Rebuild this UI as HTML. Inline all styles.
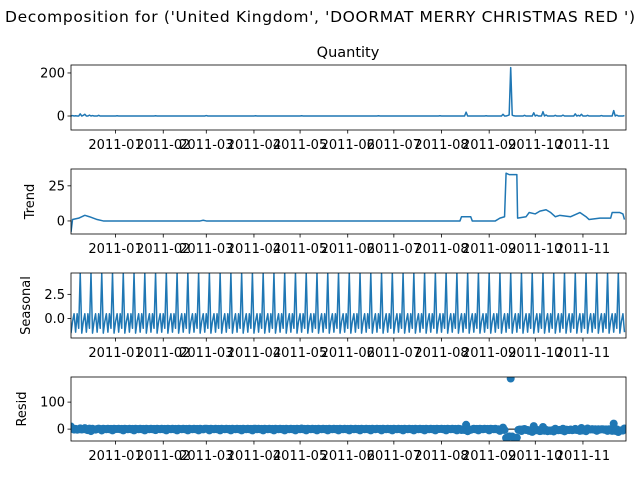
<!DOCTYPE html>
<html><head><meta charset="utf-8"><style>
html,body{margin:0;padding:0;background:#fff}
svg{display:block;font-family:"DejaVu Sans","Liberation Sans",sans-serif}
</style></head><body>
<svg id="chart" width="640" height="480" viewBox="0 0 640 480">
<rect width="640" height="480" fill="#fff"/>
<text x="320" y="22" font-size="15.5" text-anchor="middle" textLength="630">Decomposition for ('United Kingdom', 'DOORMAT MERRY CHRISTMAS RED ')</text>
<text x="348" y="57" font-size="14.5" text-anchor="middle">Quantity</text>
</svg>
<script>
// x ticks
const xTickLabels = ["2011-01","2011-02","2011-03","2011-04","2011-05","2011-06","2011-07","2011-08","2011-09","2011-10","2011-11"];
const xTickDays = [29,60,88,119,149,180,210,241,272,302,333];
const nDays = 361;
// observed: sparse non-zero days (others 0)
const obsDays = [1,3,6,8,9,12,14,18,30,55,88,120,150,200,240,257,270,281,284,285,286,287,288,295,301,303,307,309,315,320,328,330,332,336,345,353,355,360];
const obsVals = [2,1,10,3,8,4,2,3,1,1,2,1,1,1,1,18,1,8,2,5,225,4,1,3,15,4,20,5,3,4,10,3,8,3,2,25,4,2];
// trend keypoints
const trendDays = [0,1,5,9,12,17,21,84,86,88,253,254,260,261,276,279,282,283,285,290,290.5,296,298,302,305,309,312,315,318,325,329,331,335,337,344,351,352,357,359,360];
const trendVals = [-8,1,2,4,3,1,0,0,0.5,0,0,3,3,0,0,2,3,34,33,33,2,3,6,5,7,8,6,3,4,3,5,6,3,1,2,2,6,6,5,1];
// seasonal weekly pattern
const seasonalPattern = [-1.5,-0.3,0.5,-1.4,0.5,-1.0,4.7];
const obsTicks = [0,200], trendTicks = [0,25], seasTicks = [0.0,2.5], residTicks = [0,100];

const X0=71, X1=626;
const xs = d => X0 + d*(X1-X0)/nDays;
const panels = [
 {name:'observed', top:65, bot:130, min:-65, max:237, ticks:obsTicks, fmt:v=>String(v), label:null},
 {name:'trend', top:169, bot:234, min:-9.3, max:37, ticks:trendTicks, fmt:v=>String(v), label:'Trend'},
 {name:'seasonal', top:273, bot:338, min:-2.0, max:4.7, ticks:seasTicks, fmt:v=>v.toFixed(1), label:'Seasonal'},
 {name:'resid', top:377, bot:441, min:-44, max:193, ticks:residTicks, fmt:v=>String(v), label:'Resid'}
];
panels.forEach(p=>{p.y=v=>p.bot-(v-p.min)*(p.bot-p.top)/(p.max-p.min);});
const svg=document.getElementById('chart');
const NS='http://www.w3.org/2000/svg';
function mk(tag,attrs,parent){const e=document.createElementNS(NS,tag);for(const k in attrs)e.setAttribute(k,attrs[k]);(parent||svg).appendChild(e);return e;}

// data series
const observed=[];for(let d=0;d<nDays;d++)observed.push(0);
obsDays.forEach((d,i)=>{observed[d]=obsVals[i];});
function trendAt(d){for(let i=0;i<trendDays.length-1;i++){if(d>=trendDays[i]&&d<=trendDays[i+1]){const t=(d-trendDays[i])/(trendDays[i+1]-trendDays[i]);return trendVals[i]+t*(trendVals[i+1]-trendVals[i]);}}return trendVals[trendVals.length-1];}
const seasonal=[],resid=[];
for(let d=0;d<nDays;d++){seasonal.push(seasonalPattern[d%7]);resid.push(observed[d]-trendAt(d)-seasonalPattern[d%7]);}

panels.forEach((p,pi)=>{
  const g=mk('g',{});
  
  
  const cid='clip'+pi;
  const cp=mk('clipPath',{id:cid},g);mk('rect',{x:X0,y:p.top,width:X1-X0,height:p.bot-p.top},cp);
  const plot=mk('g',{'clip-path':'url(#'+cid+')'},g);
  if(p.name==='observed'){
    const pl=mk('polyline',{points:observed.map((v,d)=>xs(d).toFixed(2)+','+p.y(v).toFixed(2)).join(' '),fill:'none',stroke:'#1f77b4','stroke-width':1.5,'stroke-linejoin':'round'},plot);
    
    
  } else if(p.name==='trend'){
    const pl=mk('polyline',{points:trendDays.map((d,i)=>xs(d).toFixed(2)+','+p.y(trendVals[i]).toFixed(2)).join(' '),fill:'none',stroke:'#1f77b4','stroke-width':1.5,'stroke-linejoin':'round'},plot);
    
    
  } else if(p.name==='seasonal'){
    const pl=mk('polyline',{points:seasonal.map((v,d)=>xs(d).toFixed(2)+','+p.y(v).toFixed(2)).join(' '),fill:'none',stroke:'#1f77b4','stroke-width':1.5,'stroke-linejoin':'round'},plot);
    
    
  } else {
    const zl=mk('line',{x1:X0,x2:X1,y1:p.y(0),y2:p.y(0),stroke:'#000','stroke-width':1},plot);
    
    
    resid.forEach((v,d)=>{
      const c=mk('circle',{cx:xs(d).toFixed(2),cy:p.y(v).toFixed(2),r:4,fill:'#1f77b4'},plot);
      
      
    });
  }
  const fr=mk('rect',{x:X0,y:p.top,width:X1-X0,height:p.bot-p.top,fill:'none',stroke:'#000','stroke-width':0.8},g);
  
  
  p.ticks.forEach(v=>{
    const y=p.y(v);
    mk('line',{x1:X0-3.5,x2:X0,y1:y,y2:y,stroke:'#000','stroke-width':0.8},g);
    const t=mk('text',{x:X0-6,y:y+4.5,'font-size':13,'text-anchor':'end'},g);
    t.textContent=p.fmt(v);
    
    
  });
  xTickDays.forEach((d,i)=>{
    const x=xs(d);
    mk('line',{x1:x,x2:x,y1:p.bot,y2:p.bot+3.5,stroke:'#000','stroke-width':0.8},g);
    const t=mk('text',{x:x,y:p.bot+19,'font-size':13,'text-anchor':'middle'},g);
    t.textContent=xTickLabels[i];
    
    
  });
  if(p.label){
    const lx = p.name==='trend'?34:(p.name==='seasonal'?30:26);
    const cy=(p.top+p.bot)/2;
    const t=mk('text',{x:lx,y:cy,'font-size':13,'text-anchor':'middle',transform:'rotate(-90 '+lx+' '+cy+')'},g);
    t.textContent=p.label;
    
    
  }
});
</script>
</body></html>
